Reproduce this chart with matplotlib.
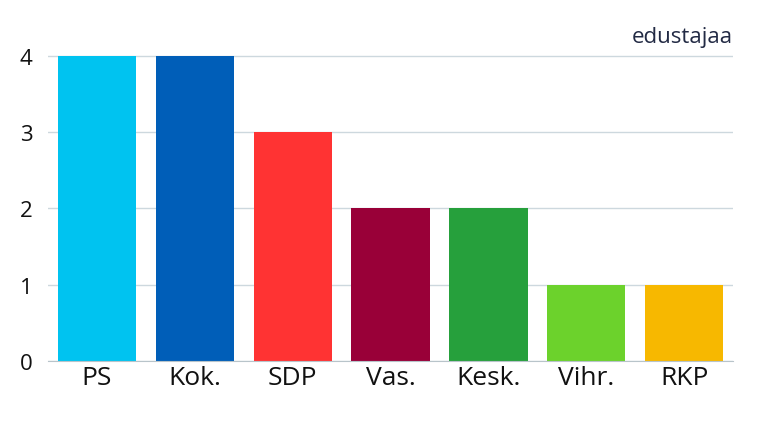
import matplotlib.pyplot as plt

parties = ['PS', 'Kok.', 'SDP', 'Vas.', 'Kesk.', 'Vihr.', 'RKP']
seats = [4, 4, 3, 2, 2, 1, 1]
colors = ['#00C3F0', '#005EB8', '#FF3333', '#990038', '#26A03C', '#6CD22C', '#F7B800']
yticks = [0, 1, 2, 3, 4]

plt.rcParams['font.family'] = ['Open Sans', 'DejaVu Sans']

fig = plt.figure(figsize=(7.67, 4.31), dpi=100)
ax = fig.add_axes([48 / 767, 1 - 362 / 431, (733 - 48) / 767, (362 - 34) / 431])

x = range(len(parties))
ax.bar(x, seats, width=0.8, color=colors, zorder=2)

ax.set_xlim(-0.5, len(parties) - 0.5)
ax.set_ylim(0, 4.3)
ax.set_yticks(yticks)
ax.set_xticks(list(x))
ax.set_xticklabels(parties, fontsize=19, color='#111111')
ax.tick_params(axis='y', labelsize=16, length=0, pad=11, labelcolor='#111111')
ax.tick_params(axis='x', length=0, pad=3)

ax.grid(axis='y', color='#CDD8DE', linewidth=1, zorder=0)
for s in ['top', 'right', 'left']:
    ax.spines[s].set_visible(False)
ax.spines['bottom'].set_color('#B8C4CA')

fig.text(733 / 767, 1 - 37 / 431, 'edustajaa', ha='right', va='center',
         fontsize=16, color='#222a44')

fig.savefig('out.png', dpi=100)
